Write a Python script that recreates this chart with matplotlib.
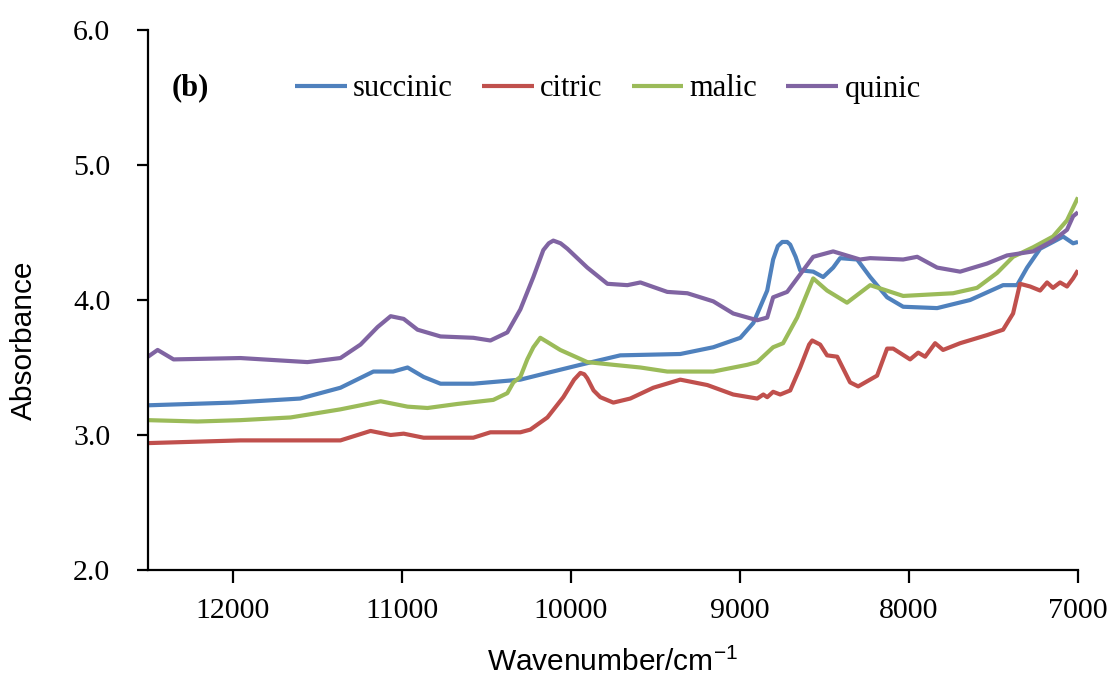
import matplotlib
matplotlib.use("Agg")
import matplotlib.pyplot as plt

# ---- data ----
succinic_w = [12500, 12000, 11600, 11362, 11167, 11050, 10965, 10870, 10770, 10576, 10298, 10138,
              9943, 9707, 9352, 9157, 8997, 8920, 8838, 8803, 8775, 8749, 8720, 8702, 8670, 8643,
              8566, 8507, 8448, 8407, 8306, 8229, 8129, 8034, 7833, 7638, 7443, 7360, 7301, 7224,
              7148, 7088, 7029, 7000]
succinic_a = [3.22, 3.24, 3.27, 3.35, 3.47, 3.47, 3.50, 3.43, 3.38, 3.38, 3.41, 3.46,
              3.52, 3.59, 3.60, 3.65, 3.72, 3.83, 4.07, 4.30, 4.40, 4.43, 4.43, 4.41, 4.32, 4.22,
              4.21, 4.17, 4.24, 4.31, 4.30, 4.17, 4.02, 3.95, 3.94, 4.00, 4.11, 4.11, 4.24, 4.38,
              4.43, 4.47, 4.42, 4.43]

citric_w = [12500, 11953, 11362, 11184, 11065, 10988, 10870, 10576, 10475, 10298, 10239, 10138,
            10044, 9980, 9943, 9920, 9902, 9865, 9825, 9748, 9648, 9512, 9352, 9192, 9039, 8897,
            8861, 8838, 8803, 8761, 8702, 8643, 8590, 8572, 8525, 8484, 8424, 8348, 8300, 8188,
            8129, 8093, 7993, 7945, 7904, 7845, 7798, 7697, 7538, 7443, 7384, 7343, 7283, 7224,
            7183, 7148, 7106, 7065, 7029, 7000]
citric_a = [2.94, 2.96, 2.96, 3.03, 3.00, 3.01, 2.98, 2.98, 3.02, 3.02, 3.04, 3.13,
            3.28, 3.41, 3.46, 3.45, 3.42, 3.33, 3.28, 3.24, 3.27, 3.35, 3.41, 3.37, 3.30, 3.27,
            3.30, 3.28, 3.32, 3.30, 3.33, 3.50, 3.67, 3.70, 3.67, 3.59, 3.58, 3.39, 3.36, 3.44,
            3.64, 3.64, 3.56, 3.61, 3.58, 3.68, 3.63, 3.68, 3.74, 3.78, 3.90, 4.12, 4.10, 4.07,
            4.13, 4.09, 4.13, 4.10, 4.16, 4.22]

malic_w = [12500, 12207, 11953, 11657, 11362, 11124, 10965, 10847, 10670, 10458, 10375, 10339,
           10298, 10257, 10221, 10180, 10140, 10062, 9902, 9748, 9588, 9429, 9157, 8956, 8897,
           8803, 8744, 8661, 8602, 8566, 8484, 8366, 8229, 8034, 7739, 7597, 7479, 7384, 7266,
           7148, 7065, 7000]
malic_a = [3.11, 3.10, 3.11, 3.13, 3.19, 3.25, 3.21, 3.20, 3.23, 3.26, 3.31, 3.39,
           3.43, 3.56, 3.65, 3.72, 3.69, 3.63, 3.54, 3.52, 3.50, 3.47, 3.47, 3.52, 3.54,
           3.65, 3.68, 3.87, 4.05, 4.16, 4.07, 3.98, 4.11, 4.03, 4.05, 4.09, 4.20, 4.32, 4.39,
           4.47, 4.59, 4.76]

quinic_w = [12500, 12443, 12349, 11953, 11557, 11362, 11243, 11142, 11065, 10988, 10906, 10770,
            10576, 10475, 10375, 10298, 10221, 10162, 10130, 10103, 10060, 10020, 9902, 9783,
            9665, 9588, 9429, 9310, 9157, 9039, 8897, 8838, 8803, 8720, 8643, 8566, 8448, 8289,
            8229, 8034, 7951, 7833, 7697, 7538, 7420, 7266, 7148, 7065, 7029, 7000]
quinic_a = [3.58, 3.63, 3.56, 3.57, 3.54, 3.57, 3.67, 3.80, 3.88, 3.86, 3.78, 3.73,
            3.72, 3.70, 3.76, 3.93, 4.17, 4.37, 4.42, 4.44, 4.42, 4.38, 4.24, 4.12,
            4.11, 4.13, 4.06, 4.05, 3.99, 3.90, 3.85, 3.87, 4.02, 4.06, 4.19, 4.32, 4.36, 4.30,
            4.31, 4.30, 4.32, 4.24, 4.21, 4.27, 4.33, 4.36, 4.44, 4.52, 4.62, 4.65]

series_names = ["succinic", "citric", "malic", "quinic"]
x_ticks = [12000, 11000, 10000, 9000, 8000, 7000]
y_ticks = [2.0, 3.0, 4.0, 5.0, 6.0]

colors = ["#4F81BD", "#C0504D", "#9BBB59", "#8064A2"]

fig = plt.figure(figsize=(11.13, 6.82), dpi=100)
ax = fig.add_axes([148 / 1113, 112 / 682, 930 / 1113, 540 / 682])

for (w, a), name, c in zip([(succinic_w, succinic_a), (citric_w, citric_a),
                            (malic_w, malic_a), (quinic_w, quinic_a)], series_names, colors):
    ax.plot(w, a, color=c, lw=3.0, label=name, solid_joinstyle="round",
            solid_capstyle="butt")

ax.set_xlim(12500, 7000)
ax.set_ylim(2.0, 6.0)
ax.set_xticks(x_ticks)
ax.set_xticklabels([str(t) for t in x_ticks])
ax.set_yticks(y_ticks)
ax.set_yticklabels(["%.1f" % t for t in y_ticks])

for s in ["top", "right"]:
    ax.spines[s].set_visible(False)
for s in ["left", "bottom"]:
    ax.spines[s].set_linewidth(1.6)

serif = "Liberation Serif"
sans = "Liberation Sans"
ax.tick_params(axis="y", direction="out", length=8, width=1.6, pad=19)
ax.tick_params(axis="x", direction="out", length=9, width=1.6, pad=11)
for lab in ax.get_xticklabels() + ax.get_yticklabels():
    lab.set_fontfamily(serif)
    lab.set_fontsize(21.5)

fig.text(612 / 1113, 1 - 662 / 682, "Wavenumber/cm$^{\\mathregular{-1}}$",
         fontfamily=sans, fontsize=21.5, ha="center", va="center")
fig.text(24 / 1113, 1 - 340 / 682, "Absorbance", rotation=90,
         fontfamily=sans, fontsize=21.5, ha="center", va="center")

ax.text((172 - 148) / 930, 1 - (88 - 30) / 540, "(b)", transform=ax.transAxes,
        fontfamily=serif, fontsize=22, fontweight="bold", va="center", ha="left")

leg = ax.legend(loc="center left", bbox_to_anchor=(295 / 1113, 1 - 89 / 682),
                bbox_transform=fig.transFigure, ncol=4, frameon=False,
                prop={"family": serif, "size": 22}, handlelength=1.7,
                handletextpad=0.2, columnspacing=0.95, borderpad=0, borderaxespad=0)

fig.savefig("out.png", dpi=100)
